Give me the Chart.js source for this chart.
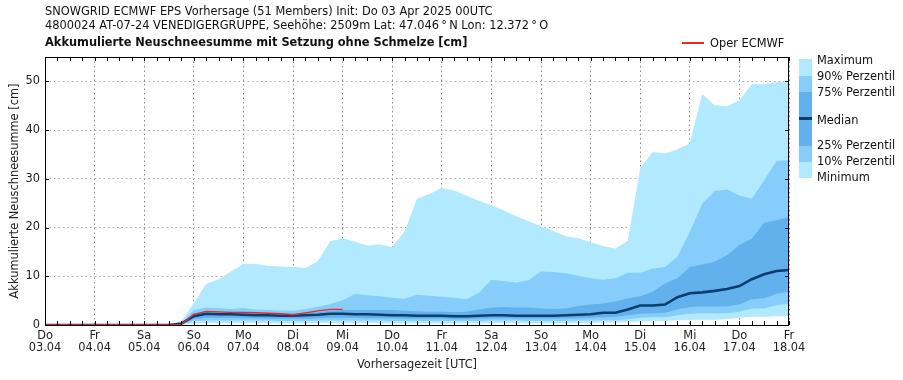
<!DOCTYPE html>
<html><head><meta charset="utf-8">
<script src="https://cdn.jsdelivr.net/npm/chart.js@4"></script>
<style>
body{margin:0;background:#fff;font-family:"DejaVu Sans",sans-serif;}
#wrap{position:relative;width:903px;height:380px;overflow:hidden;}
canvas{position:absolute;left:0;top:0;}
.t{position:absolute;font-size:11.4px;color:#111;white-space:nowrap;line-height:13px;}
.p{position:absolute;left:799px;width:13px;}
</style></head><body>
<div id="wrap">
<canvas id="c" width="903" height="380"></canvas>
<div class="t" style="left:45px;top:5px">SNOWGRID ECMWF EPS Vorhersage (51 Members) Init: Do 03 Apr 2025 00UTC</div>
<div class="t" style="left:45px;top:19px">4800024 AT-07-24 VENEDIGERGRUPPE, Seehöhe: 2509m Lat: 47.046&#8201;°&#8201;N Lon: 12.372&#8201;°&#8201;O</div>
<div class="t" style="left:45px;top:36px;font-weight:bold">Akkumulierte Neuschneesumme mit Setzung ohne Schmelze [cm]</div>
<div style="position:absolute;left:682px;top:42px;width:22px;height:2px;background:#e8282a"></div>
<div class="t" style="left:710px;top:37px">Oper ECMWF</div>
<div class="p" style="top:59px;height:17px;background:#b1e9fe"></div>
<div class="p" style="top:76px;height:16px;background:#86cdfb"></div>
<div class="p" style="top:92px;height:54px;background:#63b1ec"></div>
<div class="p" style="top:117px;height:3px;background:#0b3d6e"></div>
<div class="p" style="top:146px;height:16px;background:#86cdfb"></div>
<div class="p" style="top:162px;height:16px;background:#b1e9fe"></div>
<div class="t" style="left:817px;top:54px">Maximum</div>
<div class="t" style="left:817px;top:70px">90% Perzentil</div>
<div class="t" style="left:817px;top:86px">75% Perzentil</div>
<div class="t" style="left:817px;top:114px">Median</div>
<div class="t" style="left:817px;top:139px">25% Perzentil</div>
<div class="t" style="left:817px;top:155px">10% Perzentil</div>
<div class="t" style="left:817px;top:171px">Minimum</div>
</div>
<script>
const hours = [0,6,12,18,24,30,36,42,48,54,60,66,72,78,84,90,96,102,108,114,120,126,132,138,144,150,156,162,168,174,180,186,192,198,204,210,216,222,228,234,240,246,252,258,264,270,276,282,288,294,300,306,312,318,324,330,336,342,348,354,360];
const maxVals = [0,0,0,0,0,0,0,0,0,0,0,0.7,4.5,8.4,9.4,11.0,12.5,12.5,12.1,12.0,11.9,11.7,13.1,17.2,17.8,17.1,16.3,16.5,16.0,19.2,25.9,26.9,28.1,27.6,26.5,25.5,24.6,23.5,22.3,21.3,20.2,19.3,18.2,17.8,17.0,16.2,15.7,17.3,32.1,35.5,35.2,36.0,37.3,47.4,45.1,44.9,46.1,49.4,49.4,49.8,49.8];
const p90Vals = [0,0,0,0,0,0,0,0,0,0,0,0.4,3.1,3.6,3.5,3.3,3.5,3.2,3.1,3.0,2.9,3.3,3.7,4.3,5.1,6.4,6.1,5.9,5.6,5.4,6.2,6.0,5.8,5.6,5.3,6.6,9.3,9.0,8.7,9.2,11.0,10.9,10.6,10.1,9.6,9.3,9.6,10.7,10.7,11.6,11.9,14.0,19.1,24.9,27.5,27.8,26.6,25.9,29.7,33.7,33.8];
const p75Vals = [0,0,0,0,0,0,0,0,0,0,0,0.35,2.4,2.7,2.6,2.6,2.6,2.5,2.4,2.4,2.3,2.5,2.6,2.9,3.1,3.1,3.1,3.1,3.1,2.9,2.8,2.7,2.7,2.6,2.7,3.2,3.6,3.7,3.6,3.6,3.4,3.3,3.4,3.9,4.2,4.4,4.8,5.5,5.9,6.8,8.5,9.6,11.9,12.4,13.0,14.3,16.4,17.7,21.0,21.5,22.2];
const medianVals = [0,0,0,0,0,0,0,0,0,0,0,0.3,1.8,2.3,2.2,2.2,2.1,2.0,2.0,1.9,1.9,2.0,2.1,2.3,2.3,2.2,2.2,2.1,2.0,2.0,1.9,1.9,1.9,1.8,1.8,1.9,2.0,2.0,1.9,1.9,1.9,1.9,2.0,2.1,2.2,2.5,2.5,3.2,4.0,4.0,4.2,5.7,6.5,6.7,7.0,7.4,8.0,9.4,10.4,11.1,11.3];
const p25Vals = [0,0,0,0,0,0,0,0,0,0,0,0.2,1.2,1.5,1.5,1.5,1.4,1.4,1.3,1.3,1.3,1.3,1.4,1.5,1.5,1.5,1.4,1.4,1.4,1.3,1.3,1.3,1.3,1.2,1.2,1.3,1.4,1.4,1.3,1.3,1.3,1.3,1.4,1.4,1.5,1.6,1.7,2.0,2.3,2.4,2.5,3.2,3.7,3.8,3.8,3.8,4.2,5.3,5.5,6.4,6.9];
const p10Vals = [0,0,0,0,0,0,0,0,0,0,0,0.1,0.8,0.9,0.9,0.9,0.9,0.9,0.9,0.8,0.8,0.8,0.9,0.9,0.9,0.9,0.9,0.9,0.8,0.8,0.8,0.8,0.8,0.8,0.8,0.8,0.9,0.9,0.9,0.8,0.8,0.8,0.8,0.9,0.9,1.0,1.0,1.2,1.5,1.6,1.6,2.0,2.3,2.4,2.4,2.4,2.7,3.4,3.4,4.1,4.3];
const minVals = [0,0,0,0,0,0,0,0,0,0,0,0,0.3,0.4,0.4,0.4,0.4,0.4,0.4,0.3,0.3,0.3,0.4,0.4,0.4,0.4,0.4,0.4,0.3,0.3,0.3,0.3,0.3,0.3,0.3,0.3,0.4,0.4,0.4,0.3,0.3,0.3,0.3,0.4,0.4,0.5,0.5,0.6,0.7,0.8,0.8,1.0,1.1,1.1,1.1,1.2,1.5,1.7,1.7,1.8,1.8];
const operVals = [0,0,0,0,0,0,0,0,0,0,0,0.1,2.2,2.8,2.7,2.6,2.6,2.5,2.4,2.3,2.1,2.5,2.9,3.2,3.2,null,null,null,null,null,null,null,null,null,null,null,null,null,null,null,null,null,null,null,null,null,null,null,null,null,null,null,null,null,null,null,null,null,null,null,null];
const dayTickHours = [0,24,48,72,96,120,144,168,192,216,240,264,288,312,336,360];
const dayNames = ['Do','Fr','Sa','So','Mo','Di','Mi','Do','Fr','Sa','So','Mo','Di','Mi','Do','Fr'];
const dayDates = ['03.04','04.04','05.04','06.04','07.04','08.04','09.04','10.04','11.04','12.04','13.04','14.04','15.04','16.04','17.04','18.04'];
const yTickVals = [0,10,20,30,40,50];

const C_LIGHT = '#b1e9fe', C_MED = '#86cdfb', C_DARK = '#63b1ec';
const pts = arr => hours.map((h,i)=>({x:h, y:arr[i]}));
const band = (data, color, fill, order) => ({data:pts(data), borderWidth:0, borderColor:'rgba(0,0,0,0)', backgroundColor:color, fill:fill, order:order, pointRadius:0});

const frame = {
  id:'frame',
  afterDraw(chart){
    const {ctx, chartArea:a, scales:{x, y}} = chart;
    ctx.save();
    ctx.strokeStyle = '#000'; ctx.lineWidth = 1;
    ctx.strokeRect(Math.round(a.left)+0.5, Math.round(a.top)+0.5, Math.round(a.right-a.left)-1, Math.round(a.bottom-a.top));
    ctx.beginPath();
    hours.forEach(h => {
      const px = Math.round(x.getPixelForValue(h)) + 0.5;
      ctx.moveTo(px, a.bottom); ctx.lineTo(px, a.bottom - 4);
      ctx.moveTo(px, a.top); ctx.lineTo(px, a.top + 4);
    });
    yTickVals.forEach(v => {
      const py = Math.round(y.getPixelForValue(v)) + 0.5;
      ctx.moveTo(a.left, py); ctx.lineTo(a.left + 4, py);
      ctx.moveTo(a.right, py); ctx.lineTo(a.right - 4, py);
    });
    ctx.stroke();
    ctx.restore();
  }
};

const FONT = {family:'DejaVu Sans', size:11.4};

new Chart(document.getElementById('c'), {
  type:'line',
  data:{datasets:[
    band(maxVals, C_LIGHT, 1, 10),
    band(minVals, 'rgba(0,0,0,0)', false, 11),
    band(p90Vals, C_MED, 3, 8),
    band(p10Vals, 'rgba(0,0,0,0)', false, 9),
    band(p75Vals, C_DARK, 5, 6),
    band(p25Vals, 'rgba(0,0,0,0)', false, 7),
    {data:pts(medianVals), borderColor:'#0b3d6e', borderWidth:2.6, fill:false, order:2, pointRadius:0},
    {data:pts(operVals), borderColor:'#e8282a', borderWidth:1.4, fill:false, order:1, pointRadius:0, spanGaps:false}
  ]},
  options:{
    responsive:false, animation:false, devicePixelRatio:1,
    layout:{padding:{top:57, right:114, left:0, bottom:0}},
    plugins:{legend:{display:false}, tooltip:{enabled:false}, filler:{propagate:false}},
    elements:{line:{tension:0}, point:{radius:0}},
    scales:{
      x:{type:'linear', min:0, max:360, z:1,
        afterBuildTicks: s => { s.ticks = dayTickHours.map(v => ({value:v})); },
        afterFit: s => { s.height = 55; },
        grid:{color:'#888888', lineWidth:1, drawTicks:false},
        border:{display:false, dash:[1.5,3]},
        ticks:{autoSkip:false, maxRotation:0, padding:5, color:'#222',
          font:{family:'DejaVu Sans', size:11.4, lineHeight:1.08},
          callback: v => { const k = dayTickHours.indexOf(v); return k < 0 ? '' : [dayNames[k], dayDates[k]]; }},
        title:{display:true, text:'Vorhersagezeit [UTC]', color:'#222', font:FONT, padding:{top:0, bottom:8}}
      },
      y:{type:'linear', min:0, max:55, z:1,
        afterBuildTicks: s => { s.ticks = yTickVals.map(v => ({value:v})); },
        afterFit: s => { s.width = 45; },
        grid:{color:'#aaaaaa', lineWidth:1, drawTicks:false},
        border:{display:false, dash:[1.5,3]},
        ticks:{padding:5, color:'#222', font:FONT},
        title:{display:true, text:'Akkumulierte Neuschneesumme [cm]', color:'#222', font:FONT, padding:{top:8, bottom:0}}
      }
    }
  },
  plugins:[frame]
});
</script>
</body></html>
